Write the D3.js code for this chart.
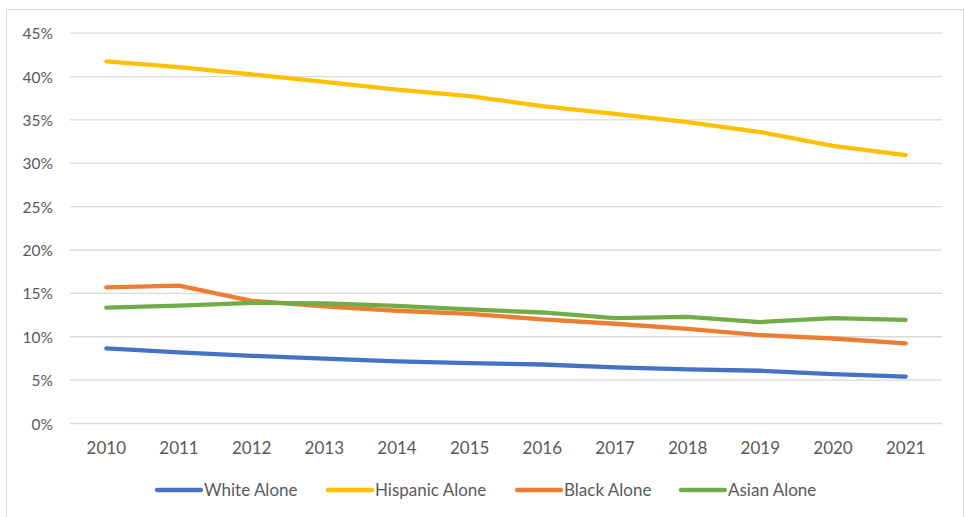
<!DOCTYPE html>
<html>
<head>
<meta charset="utf-8">
<script src="https://cdn.jsdelivr.net/npm/d3@7/dist/d3.min.js"></script>
<style>
  html, body { margin: 0; padding: 0; background: #fff; }
  svg { display: block; }
  text { font-family: Lato, "Open Sans", sans-serif; fill: #595959; }
</style>
</head>
<body>
<svg id="chart" width="965" height="517"></svg>
<script>
const years = ["2010","2011","2012","2013","2014","2015","2016","2017","2018","2019","2020","2021"];
const whiteAlone    = [8.66, 8.2, 7.8, 7.47, 7.16, 6.95, 6.8, 6.47, 6.24, 6.08, 5.7, 5.4];
const hispanicAlone = [41.75, 41.1, 40.25, 39.4, 38.5, 37.75, 36.6, 35.7, 34.75, 33.6, 32.0, 30.95];
const blackAlone    = [15.7, 15.9, 14.15, 13.5, 13.0, 12.65, 12.0, 11.5, 10.9, 10.2, 9.8, 9.24];
const asianAlone    = [13.35, 13.6, 13.9, 13.85, 13.55, 13.15, 12.8, 12.15, 12.3, 11.7, 12.15, 11.95];
const yTicks = [0, 5, 10, 15, 20, 25, 30, 35, 40, 45];
const seriesNames = ["White Alone", "Hispanic Alone", "Black Alone", "Asian Alone"];
const seriesColors = ["#4472C4", "#FFC000", "#ED7D31", "#70AD47"];
const seriesValues = [whiteAlone, hispanicAlone, blackAlone, asianAlone];

const svg = d3.select("#chart");
const plot = { left: 70, right: 942, top: 33.2, bottom: 423.5 };

// outer border
svg.append("rect").attr("x", 6.5).attr("y", 9.5).attr("width", 957).attr("height", 530)
  .attr("fill", "none").attr("stroke", "#d9d9d9").attr("stroke-width", 1);

const x = d3.scaleBand().domain(years).range([plot.left, plot.right]).padding(0);
const y = d3.scaleLinear().domain([0, 45]).range([plot.bottom, plot.top]);

// gridlines
svg.append("g").selectAll("line").data(yTicks).join("line")
  .attr("x1", plot.left).attr("x2", plot.right)
  .attr("y1", d => y(d)).attr("y2", d => y(d))
  .attr("stroke", "#d9d9d9").attr("stroke-width", 1.3);

// y axis labels
const yAxis = d3.axisLeft(y).tickValues(yTicks).tickFormat(d => d + "%").tickSize(0).tickPadding(0);
const gy = svg.append("g").attr("transform", `translate(${53},0)`).call(yAxis);
gy.select(".domain").remove();
gy.selectAll("text").attr("font-size", "15.5px").attr("fill", "#595959")
  .style("font-family", "Lato, 'Open Sans', sans-serif").attr("dy", "0.36em");

// x axis labels
const xAxis = d3.axisBottom(x).tickSize(0).tickPadding(0);
const gx = svg.append("g").attr("transform", `translate(0,${448})`).call(xAxis);
gx.select(".domain").remove();
gx.selectAll("text").attr("font-size", "17px").attr("fill", "#595959")
  .style("font-family", "Lato, 'Open Sans', sans-serif").attr("dy", "0.36em");

// lines
const line = d3.line()
  .x((d, i) => x(years[i]) + x.bandwidth() / 2)
  .y(d => y(d));

seriesValues.forEach((vals, k) => {
  svg.append("path").datum(vals)
    .attr("d", line)
    .attr("fill", "none")
    .attr("stroke", seriesColors[k])
    .attr("stroke-width", 4.3)
    .attr("stroke-linecap", "round")
    .attr("stroke-linejoin", "round");
});

// legend
const legendX = [157, 328, 517, 681];
const legendY = 490;
const lg = svg.append("g");
seriesNames.forEach((name, k) => {
  lg.append("line")
    .attr("x1", legendX[k]).attr("x2", legendX[k] + 44)
    .attr("y1", legendY).attr("y2", legendY)
    .attr("stroke", seriesColors[k]).attr("stroke-width", 4.3).attr("stroke-linecap", "round");
  lg.append("text")
    .attr("x", legendX[k] + 47).attr("y", legendY).attr("dy", "0.36em")
    .attr("font-size", "17px")
    .text(name);
});
</script>
</body>
</html>
